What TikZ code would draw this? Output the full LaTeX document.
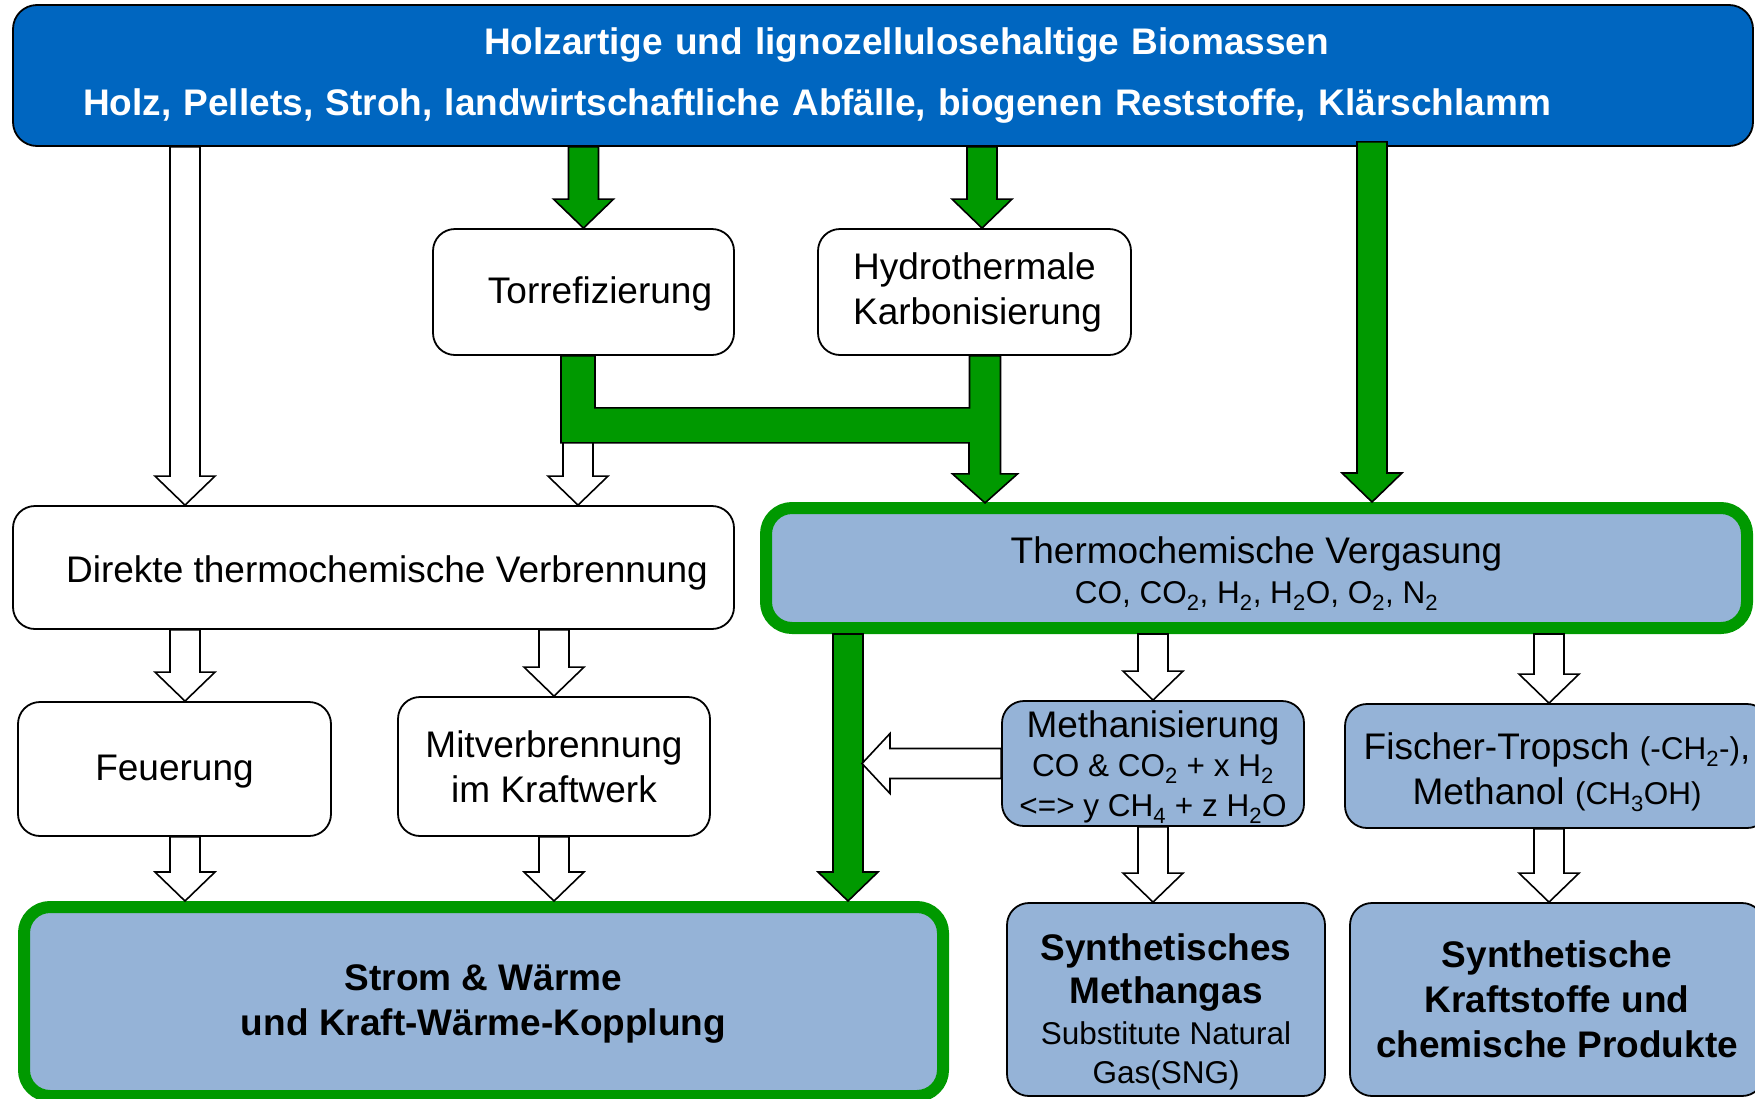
\documentclass[tikz,border=0pt]{standalone}
\usepackage{fontspec}
\setmainfont{Liberation Sans}
\usetikzlibrary{calc}

\definecolor{topblue}{RGB}{0,102,192}
\definecolor{paleblue}{RGB}{149,179,215}
\definecolor{flowgreen}{RGB}{0,153,0}

\newcommand\mainfont{\fontsize{37}{45}\selectfont}
\newcommand\chemfont{\fontsize{31.5}{40}\selectfont}

\newcommand\blkdown[3]{\draw[#1] let \p1=#2, \p2=#3 in
  (\x1-15pt,\y1) -- (\x1-15pt,\y2+29pt) -- (\x1-30pt,\y2+29pt) -- (\x1,\y2)
  -- (\x1+30pt,\y2+29pt) -- (\x1+15pt,\y2+29pt) -- (\x1+15pt,\y1) -- cycle;}
\newcommand\blkleft[3]{\draw[#1] let \p1=#2, \p2=#3 in
  (\x1,\y1+15pt) -- (\x2+28pt,\y1+15pt) -- (\x2+28pt,\y1+30pt) -- (\x2,\y1)
  -- (\x2+28pt,\y1-30pt) -- (\x2+28pt,\y1-15pt) -- (\x1,\y1-15pt) -- cycle;}

\tikzset{
  box/.style={draw, fill=white, line width=1.8pt, rounded corners=22pt,
    align=center, inner sep=0pt},
  bbox/.style={box, fill=paleblue},
  gbox/.style={box, draw=flowgreen, fill=paleblue, line width=12pt, rounded corners=26pt},
  boldtext/.style={font=\mainfont\bfseries},
  warrow/.style={draw=black, fill=white, line width=1.6pt, line join=miter},
  garrow/.style={draw=black, fill=flowgreen, line width=1.6pt, line join=miter}
}

\begin{document}
\begin{tikzpicture}[x=1pt, y=-1pt, line join=round, font=\mainfont]
\useasboundingbox (0,0) rectangle (1755,1098);
\clip (0,0) rectangle (1755,1098);

\node[box, boldtext, fill=topblue, text=white, text width=1600pt, inner xsep=70pt,
  minimum height=141pt, rounded corners=24pt, align=left] (top) at (883,75.5)
  {\hspace*{401pt}Holzartige und lignozellulosehaltige Biomassen\\[16pt]Holz, Pellets, Stroh, landwirtschaftliche Abfälle, biogenen Reststoffe, Klärschlamm};

\node[box, minimum width=301pt, minimum height=126pt] (torre) at (583.5,292) {\rule{0pt}{31pt}\hspace*{33pt}Torrefizierung};
\node[box, align=left, minimum width=313pt, minimum height=126pt] (hydro) at (974.5,292) {\hspace*{6pt}Hydrothermale\\\hspace*{6pt}Karbonisierung};
\node[box, minimum width=721pt, minimum height=123pt] (direkte) at (373.5,567.5) {\rule{0pt}{38pt}\hspace*{27pt}Direkte thermochemische Verbrennung};
\node[gbox, minimum width=981pt, minimum height=120pt] (verg) at (1256.5,568)
  {\rule{0pt}{38pt}Thermochemische Vergasung\\[-5pt]{\chemfont CO, CO\textsubscript{2}, H\textsubscript{2}, H\textsubscript{2}O, O\textsubscript{2}, N\textsubscript{2}}};
\node[box, minimum width=313pt, minimum height=134pt] (feuer) at (174.5,769) {\rule{0pt}{31pt}Feuerung};
\node[box, minimum width=312pt, minimum height=139pt] (mitv) at (554,766.5) {Mitverbrennung\\im Kraftwerk};
\node[gbox, boldtext, minimum width=919pt, minimum height=189pt] (strom) at (483.5,1001.5) {\rule{0pt}{31pt}Strom \& Wärme\\und Kraft-Wärme-Kopplung};
\node[bbox, minimum width=302pt, minimum height=125pt] (methan) at (1153,763.5)
  {\rule{0pt}{34pt}Methanisierung\\[-6pt]{\chemfont CO \& CO\textsubscript{2} + x H\textsubscript{2}}\\[-5pt]{\chemfont <=> y CH\textsubscript{4} + z H\textsubscript{2}O}};
\node[bbox, minimum width=424pt, minimum height=124pt] (fischer) at (1557,766)
  {\rule{0pt}{40pt}Fischer-Tropsch {\chemfont(-CH\textsubscript{2}-)},\\Methanol {\chemfont(CH\textsubscript{3}OH)}};
\node[bbox, minimum width=318pt, minimum height=193pt] (sng) at (1166,999.5)
  {\rule{0pt}{52pt}\textbf{Synthetisches}\\[-2pt]\textbf{Methangas}\\[-4pt]{\chemfont Substitute Natural}\\[-6pt]{\chemfont Gas(SNG)}};
\node[bbox, boldtext, minimum width=414pt, minimum height=193pt] (synth) at (1557,999.5)
  {Synthetische\\Kraftstoffe und\\chemische Produkte};

\foreach \c in {185,578,848,862,982,1372,1549}
  \coordinate (k\c) at (\c,0);

\draw[garrow] ([xshift=-22.5pt]torre.south) -- ++(34,0) -- ++(0,52) -| ([xshift=-5pt]hydro.south)
  -- ++(31,0) -- ++(0,118) -- ++(17,0) -- ++(-32.5,29) -- ++(-32.5,-29) -- ++(16.5,0)
  -- ++(0,-31) coordinate (bar) -| ([xshift=-22.5pt]torre.south) -- cycle;

\blkdown{garrow}{(torre |- top.south)}{(torre.north)}
\blkdown{garrow}{(k982 |- top.south)}{(k982 |- hydro.north)}
\blkdown{garrow}{([yshift=5pt]k1372 |- top.south)}{(k1372 |- verg.north)}
\blkdown{garrow}{(k848 |- verg.south)}{(k848 |- strom.north)}

\blkdown{warrow}{(k185 |- top.south)}{(k185 |- direkte.north)}
\blkdown{warrow}{(k578 |- bar)}{(k578 |- direkte.north)}
\blkdown{warrow}{(k185 |- direkte.south)}{(k185 |- feuer.north)}
\blkdown{warrow}{(mitv |- direkte.south)}{(mitv.north)}
\blkdown{warrow}{(k185 |- feuer.south)}{(k185 |- strom.north)}
\blkdown{warrow}{(mitv.south)}{(mitv |- strom.north)}
\blkdown{warrow}{(methan |- verg.south)}{(methan.north)}
\blkdown{warrow}{(k1549 |- verg.south)}{(k1549 |- fischer.north)}
\blkdown{warrow}{(methan.south)}{(methan |- sng.north)}
\blkdown{warrow}{(k1549 |- fischer.south)}{(k1549 |- synth.north)}
\blkleft{warrow}{(methan.west)}{(k862 |- methan.west)}
\end{tikzpicture}
\end{document}
